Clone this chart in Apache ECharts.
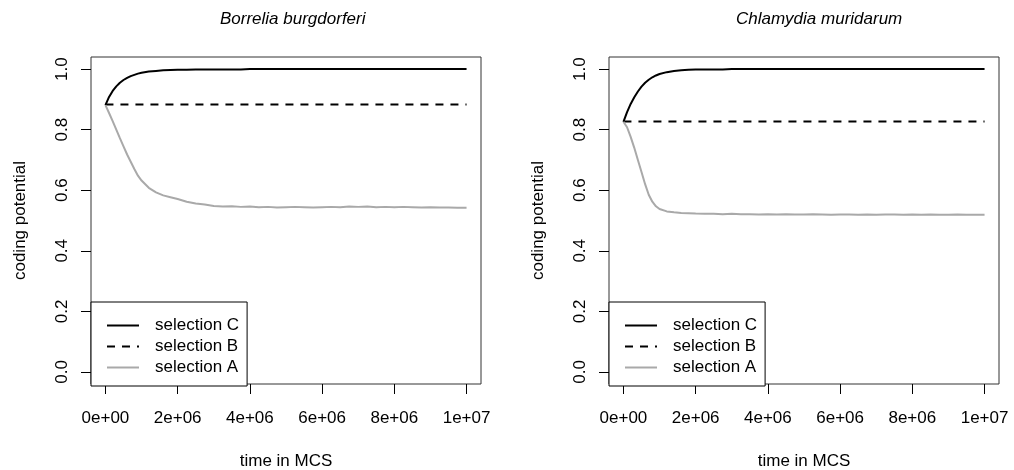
<!DOCTYPE html>
<html>
<head>
<meta charset="utf-8">
<script src="https://cdn.jsdelivr.net/npm/echarts@6/dist/echarts.min.js"></script>
<style>
  html, body { margin: 0; padding: 0; background: #fff; }
  #chart { width: 1014px; height: 470px; }
</style>
</head>
<body>
<div id="chart"></div>
<script>
// Panel titles
const panelTitles = ['Borrelia burgdorferi', 'Chlamydia muridarum'];
const seriesNames = ['selection C', 'selection B', 'selection A'];

// Time points (MCS)
const time = [
  0, 100000, 200000, 300000, 400000, 500000, 600000, 700000, 800000, 900000,
  1000000, 1200000, 1400000, 1600000, 1800000,
  2000000, 2250000, 2500000, 2750000, 3000000, 3250000, 3500000, 3750000,
  4000000, 4250000, 4500000, 4750000, 5000000, 5250000, 5500000, 5750000,
  6000000, 6250000, 6500000, 6750000, 7000000, 7250000, 7500000, 7750000,
  8000000, 8250000, 8500000, 8750000, 9000000, 9250000, 9500000, 9750000,
  10000000
];

// Borrelia burgdorferi
const borreliaC = [
  0.881, 0.908, 0.928, 0.943, 0.955, 0.964, 0.971, 0.977, 0.981, 0.985,
  0.988, 0.992, 0.994, 0.996, 0.997,
  0.998, 0.998, 0.999, 0.999, 0.999, 0.999, 0.999, 0.999,
  1.000, 1.000, 1.000, 1.000, 1.000, 1.000, 1.000, 1.000,
  1.000, 1.000, 1.000, 1.000, 1.000, 1.000, 1.000, 1.000,
  1.000, 1.000, 1.000, 1.000, 1.000, 1.000, 1.000, 1.000,
  1.000
];
const borreliaB = [
  0.883, 0.883, 0.883, 0.883, 0.883, 0.883, 0.883, 0.883, 0.883, 0.883,
  0.883, 0.883, 0.883, 0.883, 0.883,
  0.883, 0.883, 0.883, 0.883, 0.883, 0.883, 0.883, 0.883,
  0.883, 0.883, 0.883, 0.883, 0.883, 0.883, 0.883, 0.883,
  0.883, 0.883, 0.883, 0.883, 0.883, 0.883, 0.883, 0.883,
  0.883, 0.883, 0.883, 0.883, 0.883, 0.883, 0.883, 0.883,
  0.883
];
const borreliaA = [
  0.881, 0.855, 0.828, 0.800, 0.772, 0.745, 0.718, 0.694, 0.670, 0.648,
  0.632, 0.608, 0.593, 0.583, 0.577,
  0.571, 0.562, 0.556, 0.553, 0.548, 0.546, 0.547, 0.545,
  0.546, 0.544, 0.545, 0.543, 0.544, 0.545, 0.544, 0.543,
  0.544, 0.545, 0.544, 0.546, 0.545, 0.546, 0.544, 0.545,
  0.544, 0.545, 0.544, 0.543, 0.544, 0.543, 0.543, 0.542,
  0.542
];

// Chlamydia muridarum
const chlamydiaC = [
  0.826, 0.858, 0.885, 0.907, 0.926, 0.942, 0.955, 0.965, 0.973, 0.979,
  0.984, 0.990, 0.994, 0.996, 0.998,
  0.999, 0.999, 0.999, 0.999, 1.000, 1.000, 1.000, 1.000,
  1.000, 1.000, 1.000, 1.000, 1.000, 1.000, 1.000, 1.000,
  1.000, 1.000, 1.000, 1.000, 1.000, 1.000, 1.000, 1.000,
  1.000, 1.000, 1.000, 1.000, 1.000, 1.000, 1.000, 1.000,
  1.000
];
const chlamydiaB = [
  0.827, 0.827, 0.827, 0.827, 0.827, 0.827, 0.827, 0.827, 0.827, 0.827,
  0.827, 0.827, 0.827, 0.827, 0.827,
  0.827, 0.827, 0.827, 0.827, 0.827, 0.827, 0.827, 0.827,
  0.827, 0.827, 0.827, 0.827, 0.827, 0.827, 0.827, 0.827,
  0.827, 0.827, 0.827, 0.827, 0.827, 0.827, 0.827, 0.827,
  0.827, 0.827, 0.827, 0.827, 0.827, 0.827, 0.827, 0.827,
  0.827
];
const chlamydiaA = [
  0.826, 0.808, 0.776, 0.740, 0.700, 0.660, 0.620, 0.585, 0.562, 0.547,
  0.538, 0.530, 0.527, 0.525, 0.524,
  0.523, 0.522, 0.522, 0.521, 0.522, 0.521, 0.521, 0.520,
  0.521, 0.520, 0.521, 0.520, 0.520, 0.521, 0.520, 0.519,
  0.520, 0.520, 0.519, 0.520, 0.519, 0.520, 0.520, 0.519,
  0.520, 0.519, 0.520, 0.519, 0.519, 0.520, 0.519, 0.519,
  0.519
];

// Tick values and labels
const xTickValues = [0, 2000000, 4000000, 6000000, 8000000, 10000000];
const xTickLabels = ['0e+00', '2e+06', '4e+06', '6e+06', '8e+06', '1e+07'];
const yTickValues = [0, 0.2, 0.4, 0.6, 0.8, 1.0];
const yTickLabels = ['0.0', '0.2', '0.4', '0.6', '0.8', '1.0'];

const FONT = 'Liberation Sans, Arial, sans-serif';
const FS = 17;
const GREY = '#a9a9a9';

function pairs(xs, ys) {
    return xs.map((x, i) => [x, ys[i]]);
}

function xAxisFor(gridIndex) {
    return {
        type: 'value',
        gridIndex: gridIndex,
        min: -400000,
        max: 10400000,
        name: 'time in MCS',
        nameLocation: 'middle',
        nameGap: 69,
        nameTextStyle: { fontFamily: FONT, fontSize: FS, color: '#000' },
        axisLine: { show: false, onZero: false },
        splitLine: { show: false },
        axisTick: {
            show: true, inside: false, length: 10,
            customValues: xTickValues,
            lineStyle: { color: '#000', width: 1 }
        },
        axisLabel: {
            show: true, margin: 26,
            customValues: xTickValues,
            formatter: v => xTickLabels[xTickValues.indexOf(v)],
            fontFamily: FONT, fontSize: FS, color: '#000'
        }
    };
}

function yAxisFor(gridIndex) {
    return {
        type: 'value',
        gridIndex: gridIndex,
        min: -0.04,
        max: 1.04,
        name: 'coding potential',
        nameLocation: 'middle',
        nameGap: 62,
        nameTextStyle: { fontFamily: FONT, fontSize: FS, color: '#000' },
        axisLine: { show: false, onZero: false },
        splitLine: { show: false },
        axisTick: {
            show: true, inside: false, length: 10,
            customValues: yTickValues,
            lineStyle: { color: '#000', width: 1 }
        },
        axisLabel: {
            show: true, margin: 20, rotate: 90,
            customValues: yTickValues,
            formatter: v => yTickLabels[yTickValues.findIndex(t => Math.abs(t - v) < 1e-9)],
            fontFamily: FONT, fontSize: FS, color: '#000'
        }
    };
}

function seriesFor(idx, c, b, a) {
    return [
        { name: seriesNames[0], type: 'line', xAxisIndex: idx, yAxisIndex: idx, data: pairs(time, c),
          symbol: 'none', silent: true,
          lineStyle: { color: '#000', width: 2 }, itemStyle: { color: '#000' } },
        { name: seriesNames[1], type: 'line', xAxisIndex: idx, yAxisIndex: idx, data: pairs(time, b),
          symbol: 'none', silent: true,
          lineStyle: { color: '#000', width: 2, type: [8, 7] }, itemStyle: { color: '#000' } },
        { name: seriesNames[2], type: 'line', xAxisIndex: idx, yAxisIndex: idx, data: pairs(time, a),
          symbol: 'none', silent: true,
          lineStyle: { color: GREY, width: 2 }, itemStyle: { color: GREY } }
    ];
}

function legendFor(left) {
    return {
        left: left,
        top: 302,
        orient: 'vertical',
        data: seriesNames,
        itemWidth: 32,
        itemHeight: 14,
        itemGap: 4,
        padding: [15, 8, 10, 15],
        backgroundColor: '#fff',
        borderColor: '#000',
        borderWidth: 1,
        borderRadius: 0,
        selectedMode: false,
        itemStyle: { opacity: 0 },
        textStyle: { fontFamily: FONT, fontSize: FS, color: '#000', padding: [0, 0, 0, 11] }
    };
}

const chart = echarts.init(document.getElementById('chart'), null, { renderer: 'canvas' });

const titleStyle = { fontFamily: FONT, fontSize: FS, fontStyle: 'italic', fontWeight: 'normal', color: '#000' };

const gridBase = {
    top: 57, width: 390, height: 327,
    show: true, borderColor: '#333', borderWidth: 1, backgroundColor: 'transparent',
    containLabel: false, outerBoundsMode: 'none'
};

chart.setOption({
    backgroundColor: '#fff',
    animation: false,
    title: [
        { text: panelTitles[0], left: 215, top: 6, textStyle: titleStyle },
        { text: panelTitles[1], left: 731, top: 6, textStyle: titleStyle }
    ],
    grid: [
        Object.assign({ left: 91 }, gridBase),
        Object.assign({ left: 609 }, gridBase)
    ],
    xAxis: [xAxisFor(0), xAxisFor(1)],
    yAxis: [yAxisFor(0), yAxisFor(1)],
    legend: [legendFor(91), legendFor(609)],
    series: [
        ...seriesFor(0, borreliaC, borreliaB, borreliaA),
        ...seriesFor(1, chlamydiaC, chlamydiaB, chlamydiaA)
    ]
});
</script>
</body>
</html>
